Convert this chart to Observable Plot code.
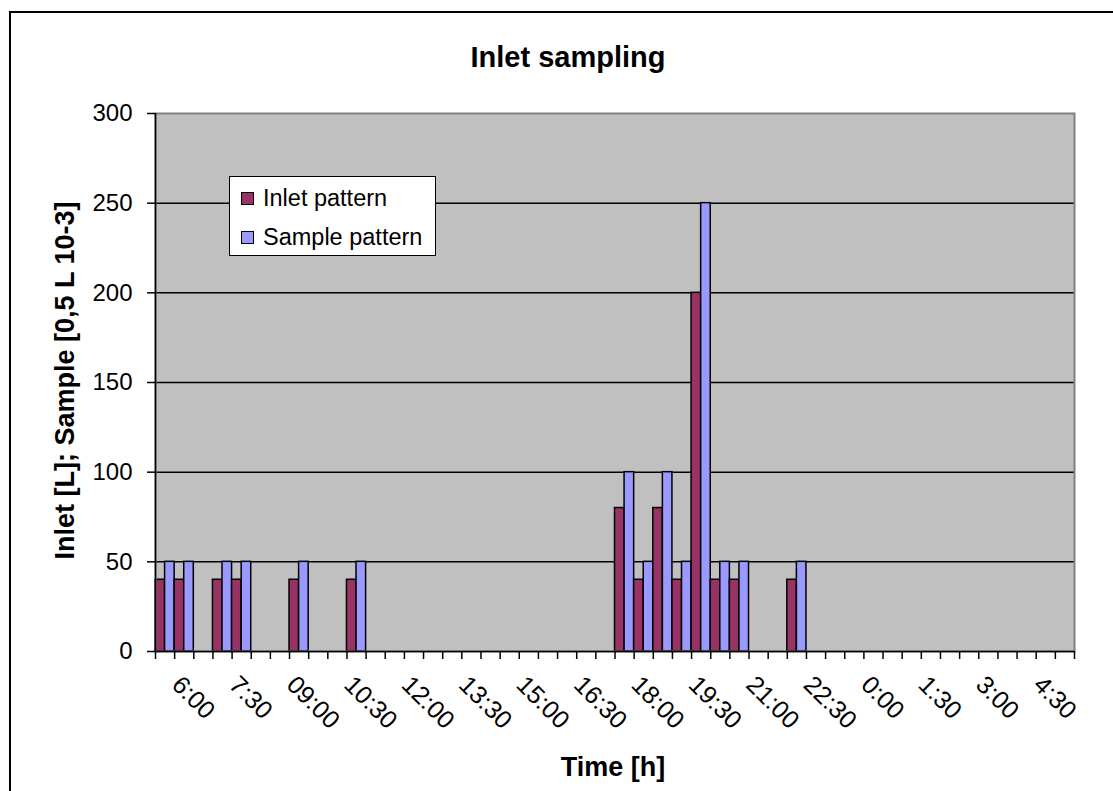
<!DOCTYPE html>
<html><head><meta charset="utf-8">
<script src="https://cdn.jsdelivr.net/npm/d3@7"></script>
<script src="https://cdn.jsdelivr.net/npm/@observablehq/plot@0.6"></script>
<style>
body{margin:0;background:#fff;overflow:hidden;}
#wrap{position:relative;width:1113px;height:791px;overflow:hidden;font-family:"Liberation Sans",Arial,sans-serif;background:#fff;}
#border{position:absolute;left:9px;top:11px;width:1130px;height:810px;border:2px solid #000;box-sizing:border-box;}
#chart{position:absolute;left:0;top:0;}
#legend{position:absolute;left:229px;top:176px;width:207px;height:80px;background:#fff;border:1.5px solid #000;box-sizing:border-box;font-size:23.5px;color:#000;}
.sw{position:absolute;left:11px;width:13px;height:13px;border:1.5px solid #000;box-sizing:border-box;}
.lt{position:absolute;left:33px;line-height:24px;white-space:nowrap;}
</style>
</head><body>
<div id="wrap">
  <div id="border"></div>
  <div id="chart"></div>
  <div id="legend"></div>
</div>
<script>
// ---- data ----
const times = ["6:00","6:30","7:00","7:30","8:00","8:30","09:00","09:30","10:00","10:30","11:00","11:30",
  "12:00","12:30","13:00","13:30","14:00","14:30","15:00","15:30","16:00","16:30","17:00","17:30",
  "18:00","18:30","19:00","19:30","20:00","20:30","21:00","21:30","22:00","22:30","23:00","23:30",
  "0:00","0:30","1:00","1:30","2:00","2:30","3:00","3:30","4:00","4:30","5:00","5:30"];
const inlet = [40,40,0,40,40,0,0,40,0,0,40,0, 0,0,0,0,0,0,0,0,0,0,0,0,
  80,40,80,40,200,40,40,0,0,40,0,0, 0,0,0,0,0,0,0,0,0,0,0,0];
const sample = [50,50,0,50,50,0,0,50,0,0,50,0, 0,0,0,0,0,0,0,0,0,0,0,0,
  100,50,100,50,250,50,50,0,0,50,0,0, 0,0,0,0,0,0,0,0,0,0,0,0];
const seriesNames = ["Inlet pattern","Sample pattern"];
const seriesColors = ["#993366","#9999FF"];
const yTicks = [0,50,100,150,200,250,300];
const labelStep = 3;
const titleText = "Inlet sampling";
const xTitle = "Time [h]";
const yTitle = "Inlet [L]; Sample [0,5 L 10-3]";

// ---- build ----
const bars = [];
times.forEach((t,i) => {
  [inlet[i], sample[i]].forEach((v,k) => {
    if (v > 0) bars.push({series: seriesNames[k], v, x1: i + k/2, x2: i + (k+1)/2});
  });
});
const labelIdx = d3.range(0, times.length, labelStep);

const chart = Plot.plot({
  width: 1113, height: 791,
  marginLeft: 155, marginRight: 39, marginTop: 113, marginBottom: 140,
  style: {fontFamily: "'Liberation Sans', Arial, sans-serif", fontSize: "24px", color: "#000", background: "transparent"},
  x: {type: "linear", domain: [0, times.length]},
  y: {domain: [0, 300]},
  color: {domain: seriesNames, range: seriesColors},
  marks: [
    Plot.frame({fill: "#C0C0C0"}),
    Plot.gridY(yTicks.filter(v => v > 0 && v < 300), {stroke: "#000", strokeOpacity: 1, strokeWidth: 1.5}),
    Plot.rect(bars, {x1: "x1", x2: "x2", y1: 0, y2: "v", fill: "series", stroke: "#000", strokeWidth: 1.5}),
    Plot.frame({stroke: "#808080", strokeWidth: 2}),
    Plot.ruleY([0], {stroke: "#000", strokeWidth: 1.5}),
    Plot.ruleX([0], {stroke: "#000", strokeWidth: 1.5}),
    Plot.axisY({ticks: yTicks, tickSize: 8, tickPadding: 15, label: null, strokeWidth: 1.5}),
    Plot.axisX({ticks: d3.range(times.length + 1), tickSize: 8, tickFormat: () => "", label: null, strokeWidth: 1.5}),
    Plot.axisX({ticks: labelIdx.map(i => i + 0.5), tickFormat: v => times[Math.round(v - 0.5)], tickRotate: 45,
      tickSize: 0, tickPadding: 29, dx: 11, label: null, fontSize: 25}),
    Plot.text([titleText], {frameAnchor: "top", lineAnchor: "middle", dy: -56, dx: -47, fontWeight: "bold", fontSize: 29}),
    Plot.text([xTitle], {frameAnchor: "bottom", lineAnchor: "middle", dy: 116, dx: -2, fontWeight: "bold", fontSize: 27}),
    Plot.text([yTitle], {frameAnchor: "left", textAnchor: "middle", lineAnchor: "middle", rotate: -90, dx: -90, dy: -2, fontWeight: "bold", fontSize: 27})
  ]
});
document.getElementById("chart").appendChild(chart);

const lg = document.getElementById("legend");
seriesNames.forEach((name, k) => {
  const sw = document.createElement("div");
  sw.className = "sw";
  sw.style.top = (15 + k*39) + "px";
  sw.style.background = seriesColors[k];
  lg.appendChild(sw);
  const tx = document.createElement("div");
  tx.className = "lt";
  tx.style.top = (9 + k*39) + "px";
  tx.textContent = name;
  lg.appendChild(tx);
});
</script>
</body></html>
